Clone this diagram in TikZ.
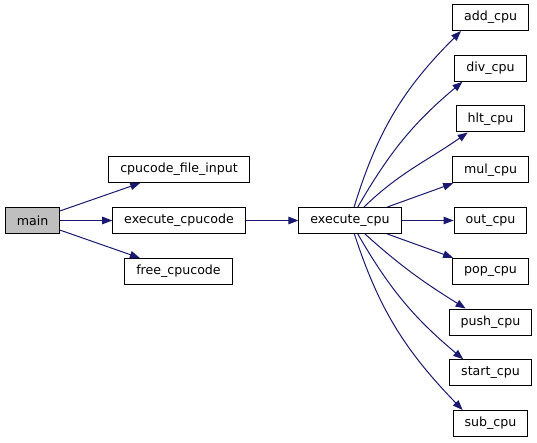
\documentclass[tikz,border=0pt]{standalone}
\usepackage{fontspec}
\setmainfont{DejaVu Sans}
\usetikzlibrary{arrows.meta}
\definecolor{callblue}{HTML}{191970}
\definecolor{rootgray}{HTML}{BFBFBF}
\tikzset{
  fnbox/.style={draw=black, line width=1pt, fill=white, minimum height=26pt,
    inner xsep=11.5pt, inner ysep=0pt, font=\fontsize{12.6pt}{15pt}\selectfont},
  call/.style={draw=callblue, line width=1pt,
    -{Triangle[length=10pt,width=7.5pt]}}
}
\begin{document}
\begin{tikzpicture}[x=1pt,y=1pt]
  \useasboundingbox (0,0) rectangle (537,-443);
   % callers
   \node[fnbox, fill=rootgray] (main) at (32.5,-220.5) {main};
   \node[fnbox] (cfi) at (179,-169.5) {cpucode\_file\_input};
   \node[fnbox] (ecc) at (179,-220.5) {execute\_cpucode};
   \node[fnbox] (free) at (178.5,-271.5) {free\_cpucode};
   \node[fnbox] (ecpu) at (350,-220.5) {execute\_cpu};
    % cpu ops
    \foreach \op [count=\i from 0] in {add,div,hlt,mul,out,pop,push,start,sub}
     {
      \node[fnbox] (\op) at (490.5,{-17.5-50.75*\i}) {\op\_cpu};
     }
    % calls
    \draw[call] (main) -- (cfi);
    \draw[call] (main) -- (ecc);
    \draw[call] (main) -- (free);
    \draw[call] (ecc) -- (ecpu);
    \draw[call] (ecpu) to[out=73,in=225] ([xshift=9pt]add.south west);
    \draw[call] (ecpu) to[out=60,in=220] ([xshift=8pt]div.south west);
    \draw[call] (ecpu) to[out=44,in=215] ([xshift=12pt]hlt.south west);
    \draw[call] (ecpu) -- (mul);
    \draw[call] (ecpu) -- (out);
    \draw[call] (ecpu) -- (pop);
    \draw[call] (ecpu) to[out=-42,in=148] ([xshift=17pt]push.north west);
    \draw[call] (ecpu) to[out=-60,in=140] ([xshift=14pt]start.north west);
    \draw[call] (ecpu) to[out=-72,in=134] ([xshift=10pt]sub.north west);
\end{tikzpicture}
\end{document}
